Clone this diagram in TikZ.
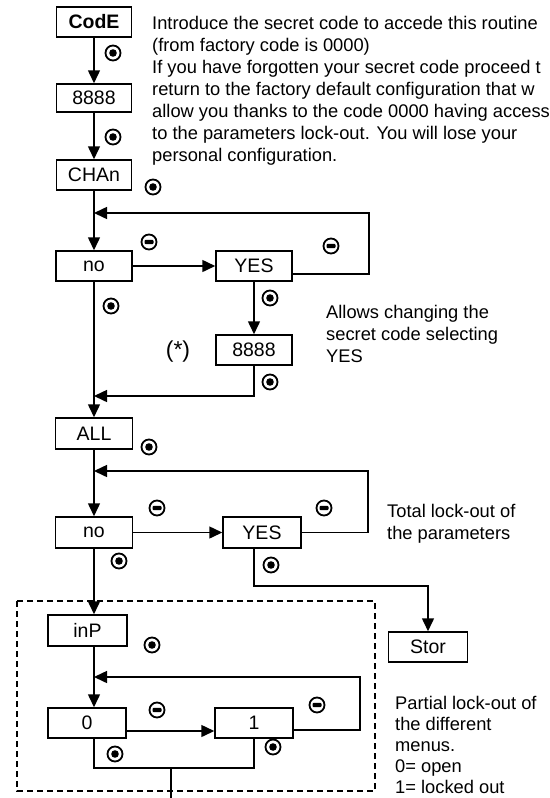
\documentclass[tikz,border=0pt]{standalone}
\usepackage{fontspec}
\setmainfont{Liberation Sans}
\usetikzlibrary{arrows.meta,calc}
\begin{document}
\begin{tikzpicture}[x=1pt,y=-1pt,
 box/.style={draw, line width=1.5pt, minimum width=76pt, minimum height=30pt, inner sep=0pt, font=\fontsize{19.5}{22}\selectfont},
 arr/.style={line width=1.5pt, -{Triangle[length=13pt,width=12pt]}},
 ln/.style={line width=1.5pt},
 txt/.style={inner sep=0pt, anchor=north west, align=left, font=\fontsize{18.3}{22}\selectfont},
 dotic/.style={circle, draw, line width=1.8pt, minimum size=15pt, inner sep=0pt, path picture={\fill (path picture bounding box.center) circle[radius=3.8pt];}},
 minic/.style={circle, draw, line width=1.8pt, minimum size=15pt, inner sep=0pt, path picture={\fill[rounded corners=1pt] ($(path picture bounding box.center)+(-4.5pt,-2.2pt)$) rectangle ($(path picture bounding box.center)+(4.5pt,2.2pt)$);}},
]
\useasboundingbox (0,0) rectangle (549,798);
\begin{scope}
\clip (0,0) rectangle (549,798);
% boxes
\node[box, minimum width=75pt] (code) at (94,22) {\bfseries CodE};
\node[box, minimum width=75pt, minimum height=28pt] (e1) at (94,98) {8888};
\node[box, minimum width=75pt] (chan) at (94,175) {CHAn};
\node[box] (no1) at (94,266) {no};
\node[box] (yes1) at (254,266) {YES};
\node[box] (e2) at (254,350) {8888};
\node[box, minimum width=77pt, minimum height=31pt] (all) at (94,433.5) {ALL};
\node[box, minimum width=77pt, minimum height=31pt] (no2) at (94,532.5) {no};
\node[box, minimum width=78pt, minimum height=31pt] (yes2) at (262,532.5) {YES};
\node[box, minimum width=79pt] (stor) at (428,647) {Stor};
\node[box, minimum width=79pt, minimum height=31pt] (inp) at (87.5,630.5) {inP};
\node[box, minimum width=78pt] (zero) at (87,723) {0};
\node[box, minimum width=78pt] (one) at (254,723) {1};
% junction coordinates
\coordinate (j1) at (94,213);
\coordinate (j2) at (94,396);
\coordinate (j3) at (94,471);
\coordinate (j5) at (94,677);
\coordinate (turn) at (428,586);
\coordinate (b1) at (171,768);
\coordinate (bend) at (171,805);
% connectors
\draw[arr] (code) -- (e1);
\draw[arr] (e1) -- (chan);
\draw[arr] (chan) -- (no1);
\draw[arr] ([yshift=-8pt]yes1.east) -- ++(76,0) |- (j1);
\draw[arr] (no1) -- (yes1);
\draw[arr] (yes1) -- (e2);
\draw[arr] (no1) -- (all);
\draw[arr] (e2.south) |- (j2);
\draw[arr] (all) -- (no2);
\draw[arr] (yes2.east) -- ++(66,0) |- (j3);
\draw[arr] (no2) -- (yes2);
\draw[arr] (no2.south) -- (no2.south |- inp.north);
\draw[arr] (yes2.south -| e2.south) |- (turn) -- (stor);
\draw[arr] (inp.south -| j1) -- (zero.north -| j1);
\draw[arr] ([yshift=-7pt]one.east) -- ++(66,0) |- (j5);
\draw[arr] ([yshift=-8pt]zero.east) -- ([yshift=-8pt]one.west);
\draw[ln] (zero.south -| j1) |- (b1) -| (one.south);
\draw[ln] (b1) -- (bend);
% dashed frame
\draw[line width=1.5pt, dash pattern=on 6pt off 4pt] (17,601) rectangle (375,791);
% icons
\node[dotic] (d1) at (113,53) {};
\node[dotic] (d2) at (113,137) {};
\node[dotic] (d3) at (153,187) {};
\node[dotic] (d4) at (111,306) {};
\node[dotic] (d5) at (270,298) {};
\node[dotic] (d6) at (270,382) {};
\node[dotic] (d7) at (149,447) {};
\node[dotic] (d8) at (119,561) {};
\node[dotic] (d9) at (271,565) {};
\node[dotic] (d10) at (152,645) {};
\node[dotic] (d11) at (115,754) {};
\node[dotic] (d12) at (273,747) {};
\node[minic] (m1) at (149,242) {};
\node[minic] (m2) at (331,246) {};
\node[minic] (m3) at (157,508) {};
\node[minic] (m4) at (324,508) {};
\node[minic] (m5) at (157,710) {};
\node[minic] (m6) at (317,705) {};
% texts
\node[txt] (t1) at (152,13.6) {\strut Introduce the secret code to accede this routine\\
(from factory code is 0000)\\
If you have forgotten your secret code proceed t\\
return to the factory default configuration that w\\
allow you thanks to the code 0000 having access\\
to the parameters lock-out. You will lose your\\
personal configuration.};
\node[font=\fontsize{23}{22}\selectfont, inner sep=0pt] (star) at (178,352) {(*)};
\node[txt] (t2) at (326,302.6) {\strut Allows changing the\\ secret code selecting\\ YES};
\node[txt] (t3) at (387,501.6) {\strut Total lock-out of\\ the parameters};
\node[txt, font=\fontsize{18.3}{21}\selectfont] (t4) at (395,695) {\strut Partial lock-out of\\ the different\\ menus.\\ 0= open\\ 1= locked out};
\end{scope}
\end{tikzpicture}
\end{document}
